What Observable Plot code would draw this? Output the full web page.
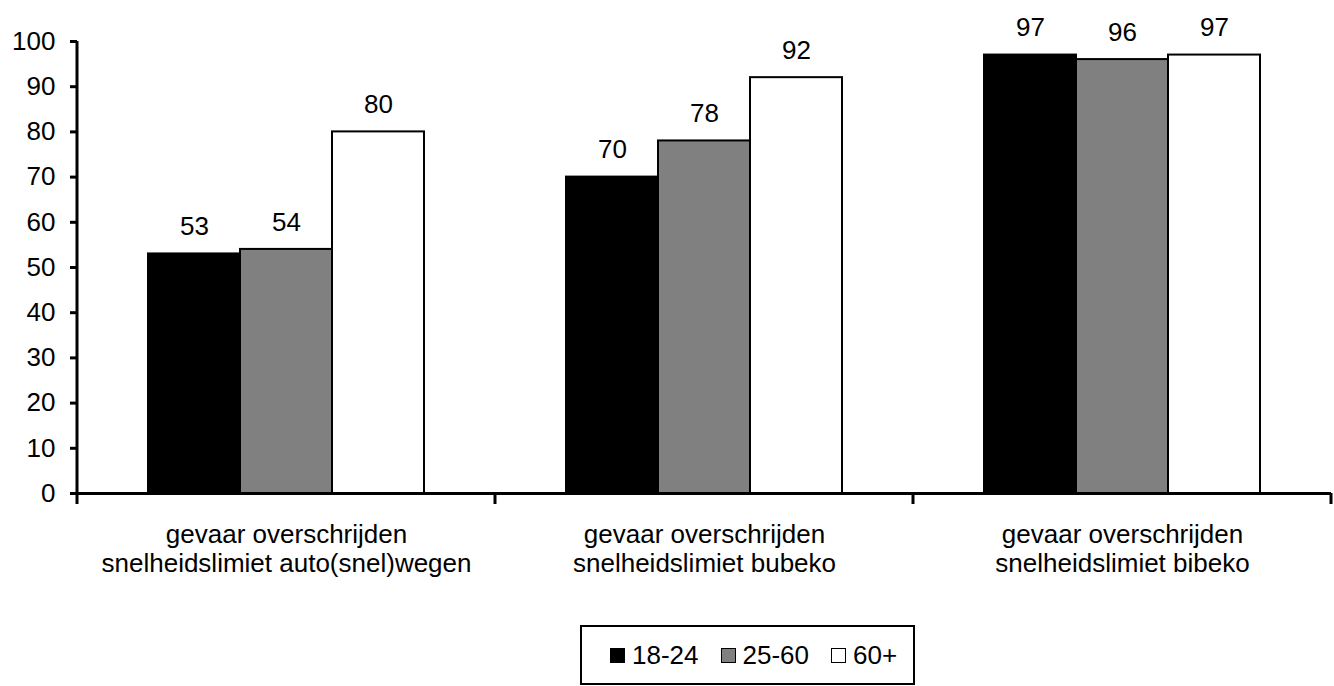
<!DOCTYPE html>
<html>
<head>
<meta charset="utf-8">
<script src="https://cdn.jsdelivr.net/npm/d3@7"></script>
<script src="https://cdn.jsdelivr.net/npm/@observablehq/plot@0.6"></script>
<style>
  body { margin: 0; background: #fff; font-family: "Liberation Sans", Arial, sans-serif; }
  #wrap { position: relative; width: 1334px; height: 686px; overflow: hidden; }
  #chart svg { display: block; }
  .legend { position: absolute; left: 580px; top: 625px; width: 335px; height: 60px; box-sizing: border-box;
    border: 2px solid #000; display: flex; align-items: center; font-size: 26px; padding-left: 28px; color: #000;
    white-space: nowrap; }
  .item { display: flex; align-items: center; margin-right: 22px; flex-shrink: 0; white-space: nowrap; }
  .sw { width: 15px; height: 15px; box-sizing: border-box; border: 1.5px solid #000; margin-right: 7px; flex-shrink: 0; }
</style>
</head>
<body>
<div id="wrap">
  <div id="chart"></div>
  <div class="legend" id="legend"></div>
</div>
<script>
const categories = [
  "gevaar overschrijden\nsnelheidslimiet auto(snel)wegen",
  "gevaar overschrijden\nsnelheidslimiet bubeko",
  "gevaar overschrijden\nsnelheidslimiet bibeko"
];
const ageGroups = ["18-24", "25-60", "60+"];
const values1824 = [53, 70, 97];
const values2560 = [54, 78, 96];
const values60plus = [80, 92, 97];
const colors = ["#000000", "#808080", "#ffffff"];
const yTicks = [0, 10, 20, 30, 40, 50, 60, 70, 80, 90, 100];

const series = [values1824, values2560, values60plus];
const data = categories.flatMap((c, i) => ageGroups.map((a, j) => ({category: c, age: a, value: series[j][i]})));

const chart = Plot.plot({
  width: 1334,
  height: 620,
  marginLeft: 76,
  marginRight: 2,
  marginTop: 41,
  marginBottom: 127,
  style: {fontFamily: '"Liberation Sans", Arial, sans-serif', fontSize: "26px", color: "#000", background: "#fff"},
  fx: {domain: categories, padding: 0, label: null},
  x: {domain: ageGroups, paddingInner: 0, paddingOuter: 0.75, axis: null},
  y: {domain: [0, 100], label: null},
  color: {domain: ageGroups, range: colors},
  marks: [
    Plot.barY(data, {fx: "category", x: "age", y: "value", fill: "age", stroke: "#000", strokeWidth: 2}),
    Plot.text(data, {fx: "category", x: "age", y: "value", text: d => String(d.value), dy: -27, fontSize: 26, fill: "#000"}),
    Plot.ruleY([0], {strokeWidth: 3, stroke: "#000"}),
    Plot.axisY({ticks: yTicks, tickSize: 7, tickPadding: 15, strokeWidth: 3, fontSize: 26, label: null}),
    Plot.axisFx({anchor: "bottom", tickSize: 0, tickPadding: 30, lineHeight: 1.08, fontSize: 26, label: null})
  ]
});
document.getElementById("chart").appendChild(chart);

// axis line and category boundary ticks, positioned with Plot's own scales
const fx = chart.scale("fx");
const y = chart.scale("y");
const y0 = y.apply(0), y100 = y.apply(100);
const g = d3.select(chart).append("g").attr("stroke", "#000").attr("stroke-width", 3);
const left = fx.apply(categories[0]);
g.append("line").attr("x1", left).attr("x2", left).attr("y1", y100).attr("y2", y0 + 11);
categories.forEach(c => {
  const r = fx.apply(c) + fx.bandwidth;
  g.append("line").attr("x1", r).attr("x2", r).attr("y1", y0).attr("y2", y0 + 11);
});

// legend
const legend = document.getElementById("legend");
ageGroups.forEach((a, i) => {
  const item = document.createElement("div");
  item.className = "item";
  const sw = document.createElement("div");
  sw.className = "sw";
  sw.style.background = colors[i];
  const t = document.createElement("span");
  t.textContent = a;
  item.appendChild(sw);
  item.appendChild(t);
  legend.appendChild(item);
});
</script>
</body>
</html>
